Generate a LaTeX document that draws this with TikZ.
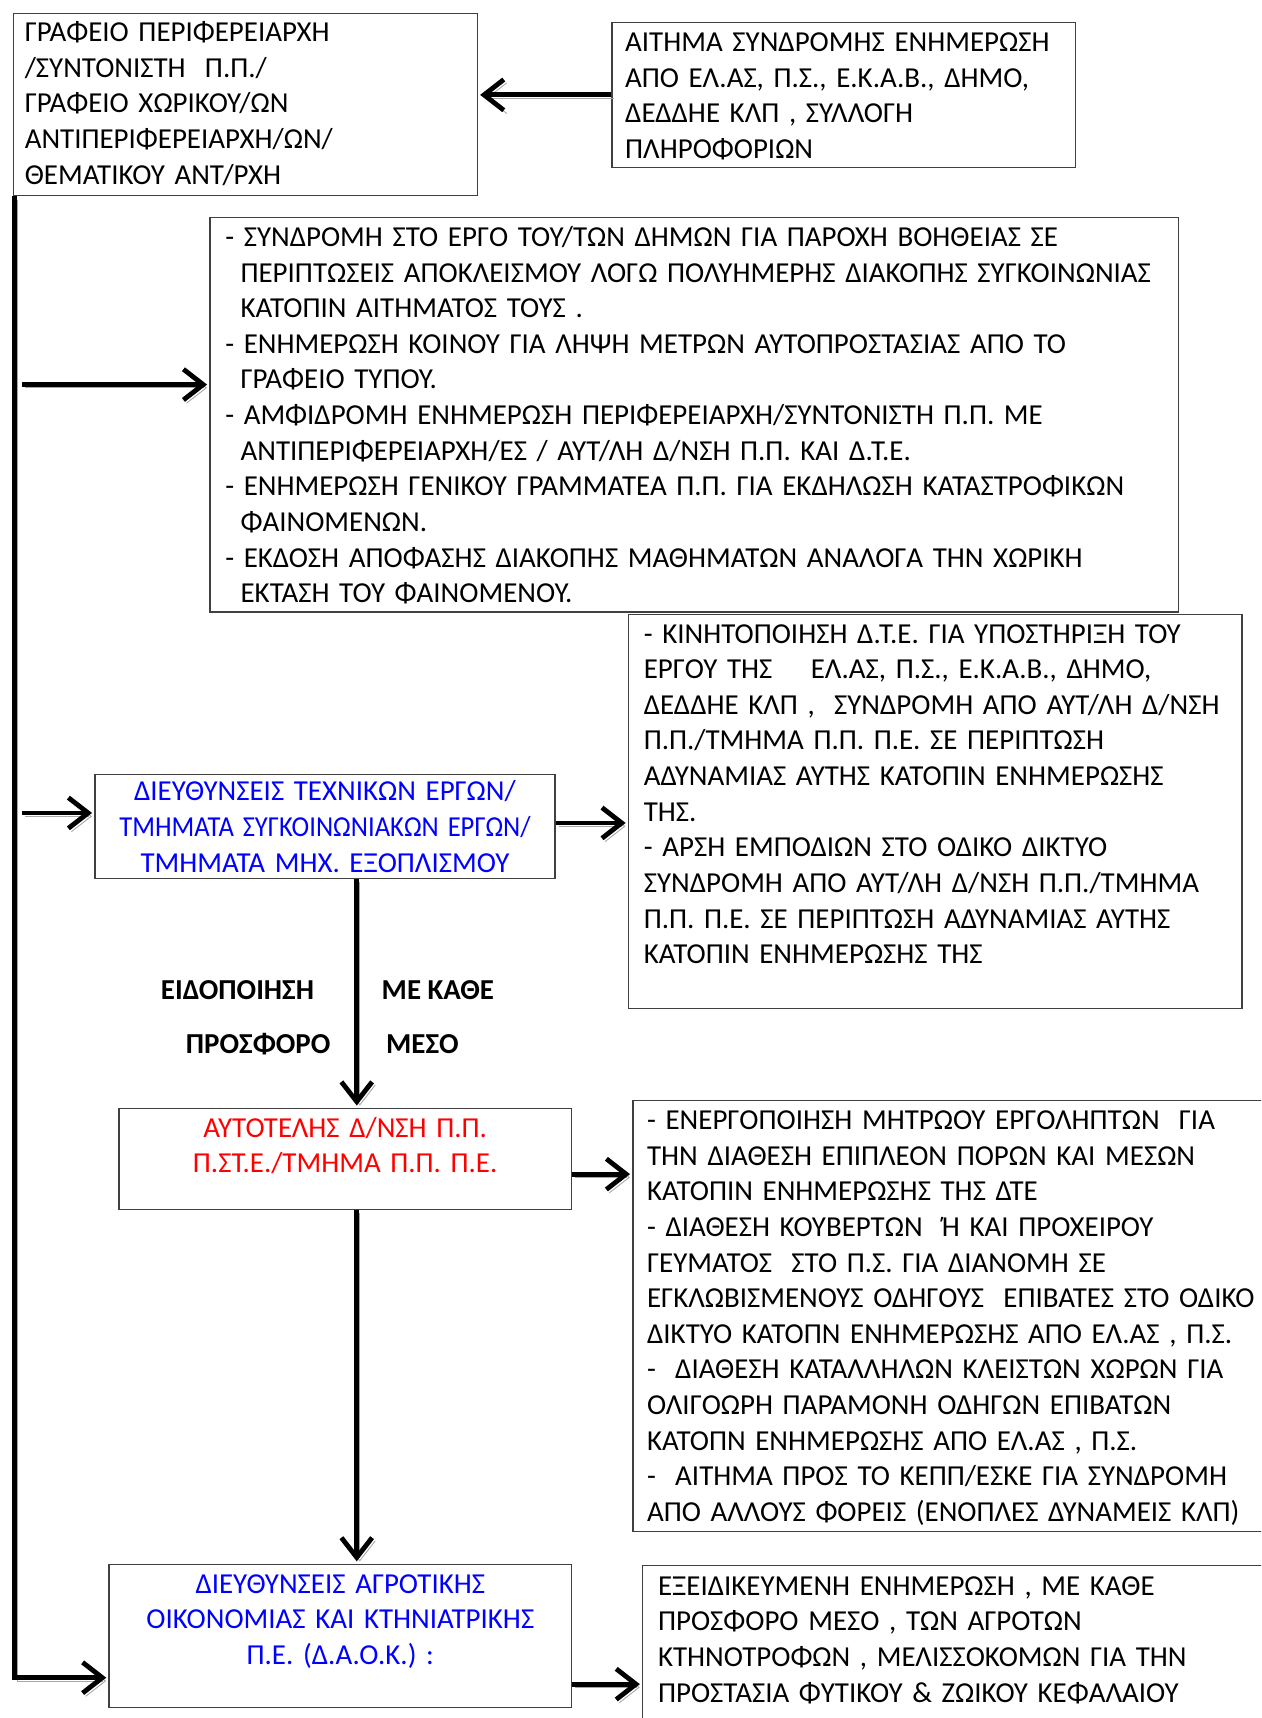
\documentclass[tikz,border=0pt]{standalone}
\usepackage{fontspec}
\setmainfont{Carlito}
\usetikzlibrary{arrows.meta,positioning}

\definecolor{deptblue}{RGB}{0,0,255}
\definecolor{civred}{RGB}{255,0,0}
\newcommand{\hang}{\hspace*{7pt}}

\tikzset{
  box/.style={draw=black!75, line width=0.6pt, anchor=north west, inner ysep=0pt,
              align=left, text height=13.2pt, font=\fontsize{13.2}{16.25}\selectfont},
  centerbox/.style={box, align=center},
  flow/.style={line width=2.2pt, -{Straight Barb[length=9pt,width=14pt]}, shorten >=1pt,
               preaction={draw=black!35, transform canvas={shift={(1.4pt,-1.5pt)}}}},
  tag/.style={font=\fontsize{13.2}{15}\selectfont\bfseries, inner sep=0pt}
}

\begin{document}
\begin{tikzpicture}[x=0.5pt, y=-0.5pt]
  \useasboundingbox (0,0) rectangle (1151,1568);
  \clip (0,0) rectangle (1151,1568);

  % boxes
  \node[box, inner xsep=5pt, text width=201.5pt, text height=12.7pt, text depth=70.3pt]
    (grafeio) at (12,12)
    {ΓΡΑΦΕΙΟ ΠΕΡΙΦΕΡΕΙΑΡΧΗ\\ /ΣΥΝΤΟΝΙΣΤΗ~ Π.Π./\\ ΓΡΑΦΕΙΟ ΧΩΡΙΚΟΥ/ΩΝ\\
     ΑΝΤΙΠΕΡΙΦΕΡΕΙΑΡΧΗ/ΩΝ/\\ ΘΕΜΑΤΙΚΟΥ ΑΝΤ/ΡΧΗ};
  \node[box, inner xsep=6pt, text width=199.5pt, text depth=52.8pt]
    (aitima) at (558,20)
    {ΑΙΤΗΜΑ ΣΥΝΔΡΟΜΗΣ ΕΝΗΜΕΡΩΣΗ\\ ΑΠΟ ΕΛ.ΑΣ, Π.Σ., Ε.Κ.Α.Β., ΔΗΜΟ,\\
     ΔΕΔΔΗΕ ΚΛΠ , ΣΥΛΛΟΓΗ\\ ΠΛΗΡΟΦΟΡΙΩΝ};
  \node[box, inner xsep=7pt, text width=428pt, text depth=166.8pt]
    (drasi) at (191,198)
    {- ΣΥΝΔΡΟΜΗ ΣΤΟ ΕΡΓΟ ΤΟΥ/ΤΩΝ ΔΗΜΩΝ ΓΙΑ ΠΑΡΟΧΗ ΒΟΗΘΕΙΑΣ ΣΕ\\
     \hang ΠΕΡΙΠΤΩΣΕΙΣ ΑΠΟΚΛΕΙΣΜΟΥ ΛΟΓΩ ΠΟΛΥΗΜΕΡΗΣ ΔΙΑΚΟΠΗΣ ΣΥΓΚΟΙΝΩΝΙΑΣ\\
     \hang ΚΑΤΟΠΙΝ ΑΙΤΗΜΑΤΟΣ ΤΟΥΣ .\\
     - ΕΝΗΜΕΡΩΣΗ ΚΟΙΝΟΥ ΓΙΑ ΛΗΨΗ ΜΕΤΡΩΝ ΑΥΤΟΠΡΟΣΤΑΣΙΑΣ ΑΠΟ ΤΟ\\
     \hang ΓΡΑΦΕΙΟ ΤΥΠΟΥ.\\
     - ΑΜΦΙΔΡΟΜΗ ΕΝΗΜΕΡΩΣΗ ΠΕΡΙΦΕΡΕΙΑΡΧΗ/ΣΥΝΤΟΝΙΣΤΗ Π.Π. ΜΕ\\
     \hang ΑΝΤΙΠΕΡΙΦΕΡΕΙΑΡΧΗ/ΕΣ / ΑΥΤ/ΛΗ Δ/ΝΣΗ Π.Π. ΚΑΙ Δ.Τ.Ε.\\
     - ΕΝΗΜΕΡΩΣΗ ΓΕΝΙΚΟΥ ΓΡΑΜΜΑΤΕΑ Π.Π. ΓΙΑ ΕΚΔΗΛΩΣΗ ΚΑΤΑΣΤΡΟΦΙΚΩΝ\\
     \hang ΦΑΙΝΟΜΕΝΩΝ.\\
     - ΕΚΔΟΣΗ ΑΠΟΦΑΣΗΣ ΔΙΑΚΟΠΗΣ ΜΑΘΗΜΑΤΩΝ ΑΝΑΛΟΓΑ ΤΗΝ ΧΩΡΙΚΗ\\
     \hang ΕΚΤΑΣΗ ΤΟΥ ΦΑΙΝΟΜΕΝΟΥ.};
  \node[centerbox, text=deptblue, inner xsep=1.5pt, text width=207pt,
        text height=12.2pt, text depth=35.3pt]
    (texnikes) at (86,706)
    {ΔΙΕΥΘΥΝΣΕΙΣ ΤΕΧΝΙΚΩΝ ΕΡΓΩΝ/\\ \scalebox{0.92}[1]{ΤΜΗΜΑΤΑ ΣΥΓΚΟΙΝΩΝΙΑΚΩΝ ΕΡΓΩΝ/}\\
     ΤΜΗΜΑΤΑ ΜΗΧ. ΕΞΟΠΛΙΣΜΟΥ};
  \node[box, inner xsep=7pt, text width=266pt, text depth=166.8pt]
    (kinitopoiisi) at (573,560)
    {- ΚΙΝΗΤΟΠΟΙΗΣΗ Δ.Τ.Ε. ΓΙΑ ΥΠΟΣΤΗΡΙΞΗ ΤΟΥ\\
     ΕΡΓΟΥ ΤΗΣ~~~ ΕΛ.ΑΣ, Π.Σ., Ε.Κ.Α.Β., ΔΗΜΟ,\\
     ΔΕΔΔΗΕ ΚΛΠ ,~ ΣΥΝΔΡΟΜΗ ΑΠΟ ΑΥΤ/ΛΗ Δ/ΝΣΗ\\
     Π.Π./ΤΜΗΜΑ Π.Π. Π.Ε. ΣΕ ΠΕΡΙΠΤΩΣΗ\\
     ΑΔΥΝΑΜΙΑΣ ΑΥΤΗΣ ΚΑΤΟΠΙΝ ΕΝΗΜΕΡΩΣΗΣ\\
     ΤΗΣ.\\
     - ΑΡΣΗ ΕΜΠΟΔΙΩΝ ΣΤΟ ΟΔΙΚΟ ΔΙΚΤΥΟ\\
     ΣΥΝΔΡΟΜΗ ΑΠΟ ΑΥΤ/ΛΗ Δ/ΝΣΗ Π.Π./ΤΜΗΜΑ\\
     Π.Π. Π.Ε. ΣΕ ΠΕΡΙΠΤΩΣΗ ΑΔΥΝΑΜΙΑΣ ΑΥΤΗΣ\\
     ΚΑΤΟΠΙΝ ΕΝΗΜΕΡΩΣΗΣ ΤΗΣ};
  \node[centerbox, text=civred, inner xsep=4pt, text width=198.5pt, text depth=32.8pt]
    (aytotelis) at (108,1011)
    {ΑΥΤΟΤΕΛΗΣ Δ/ΝΣΗ Π.Π.\\ Π.ΣΤ.Ε./ΤΜΗΜΑ Π.Π. Π.Ε.};
  \node[box, inner xsep=6.5pt, text width=288.5pt, text depth=183.3pt]
    (mitroo) at (577,1004)
    {- ΕΝΕΡΓΟΠΟΙΗΣΗ ΜΗΤΡΩΟΥ ΕΡΓΟΛΗΠΤΩΝ~ ΓΙΑ\\
     ΤΗΝ ΔΙΑΘΕΣΗ ΕΠΙΠΛΕΟΝ ΠΟΡΩΝ ΚΑΙ ΜΕΣΩΝ\\
     ΚΑΤΟΠΙΝ ΕΝΗΜΕΡΩΣΗΣ ΤΗΣ ΔΤΕ\\
     - ΔΙΑΘΕΣΗ ΚΟΥΒΕΡΤΩΝ~ Ή ΚΑΙ ΠΡΟΧΕΙΡΟΥ\\
     ΓΕΥΜΑΤΟΣ~ ΣΤΟ Π.Σ. ΓΙΑ ΔΙΑΝΟΜΗ ΣΕ\\
     ΕΓΚΛΩΒΙΣΜΕΝΟΥΣ ΟΔΗΓΟΥΣ~ ΕΠΙΒΑΤΕΣ ΣΤΟ ΟΔΙΚΟ\\
     ΔΙΚΤΥΟ ΚΑΤΟΠΝ ΕΝΗΜΕΡΩΣΗΣ ΑΠΟ ΕΛ.ΑΣ , Π.Σ.\\
     -~ ΔΙΑΘΕΣΗ ΚΑΤΑΛΛΗΛΩΝ ΚΛΕΙΣΤΩΝ ΧΩΡΩΝ ΓΙΑ\\
     ΟΛΙΓΟΩΡΗ ΠΑΡΑΜΟΝΗ ΟΔΗΓΩΝ ΕΠΙΒΑΤΩΝ\\
     ΚΑΤΟΠΝ ΕΝΗΜΕΡΩΣΗΣ ΑΠΟ ΕΛ.ΑΣ , Π.Σ.\\
     -~ ΑΙΤΗΜΑ ΠΡΟΣ ΤΟ ΚΕΠΠ/ΕΣΚΕ ΓΙΑ ΣΥΝΔΡΟΜΗ\\
     ΑΠΟ ΑΛΛΟΥΣ ΦΟΡΕΙΣ (ΕΝΟΠΛΕΣ ΔΥΝΑΜΕΙΣ ΚΛΠ)};
  \node[centerbox, text=deptblue, inner xsep=4pt, text width=203pt, text depth=52.3pt]
    (agrotikis) at (99,1427)
    {ΔΙΕΥΘΥΝΣΕΙΣ ΑΓΡΟΤΙΚΗΣ\\ ΟΙΚΟΝΟΜΙΑΣ ΚΑΙ ΚΤΗΝΙΑΤΡΙΚΗΣ\\ Π.Ε. (Δ.Α.Ο.Κ.) :};
  \node[box, inner xsep=7pt, text width=283pt, text height=13.7pt, text depth=72.3pt]
    (enimerosi) at (586,1428)
    {ΕΞΕΙΔΙΚΕΥΜΕΝΗ ΕΝΗΜΕΡΩΣΗ , ΜΕ ΚΑΘΕ\\ ΠΡΟΣΦΟΡΟ ΜΕΣΟ , ΤΩΝ ΑΓΡΟΤΩΝ\\
     ΚΤΗΝΟΤΡΟΦΩΝ , ΜΕΛΙΣΣΟΚΟΜΩΝ ΓΙΑ ΤΗΝ\\ ΠΡΟΣΤΑΣΙΑ ΦΥΤΙΚΟΥ \& ΖΩΙΚΟΥ ΚΕΦΑΛΑΙΟΥ};

  % labels of the notification arrow
  \node[tag, anchor=east] (eidopoiisi) at (287,904) {ΕΙΔΟΠΟΙΗΣΗ};
  \node[tag, anchor=west] (kathe)      at (348,904) {ΜΕ ΚΑΘΕ};
  \node[tag, anchor=east] (prosforo)   at (302,953) {ΠΡΟΣΦΟΡΟ};
  \node[tag, anchor=west] (meso)       at (352,953) {ΜΕΣΟ};

  % connectors
  \coordinate (branchC) at (20,351);
  \coordinate (branchD) at (20,742);
  \draw[flow] (aitima.west) -- (aitima.west -| grafeio.east);
  \draw[flow] ([xshift=0.5pt]grafeio.south west) |- ([yshift=14pt]agrotikis.south west);
  \draw[flow] (branchC) -- (branchC -| drasi.west);
  \draw[flow] (branchD) -- (branchD -| texnikes.west);
  \draw[flow] ([yshift=1.5pt]texnikes.east) -- ([yshift=1.5pt]texnikes.east -| kinitopoiisi.west);
  \draw[flow] ([xshift=14.5pt]texnikes.south) -- ([xshift=14.5pt]texnikes.south |- aytotelis.north);
  \draw[flow] ([yshift=-7pt]aytotelis.east) -- ([yshift=-7pt]aytotelis.east -| mitroo.west);
  \draw[flow] ([xshift=5.25pt]aytotelis.south) -- ([xshift=5.25pt]aytotelis.south |- agrotikis.north);
  \draw[flow] ([yshift=-22pt]agrotikis.east) -- ([yshift=-22pt]agrotikis.east -| enimerosi.west);
\end{tikzpicture}
\end{document}
